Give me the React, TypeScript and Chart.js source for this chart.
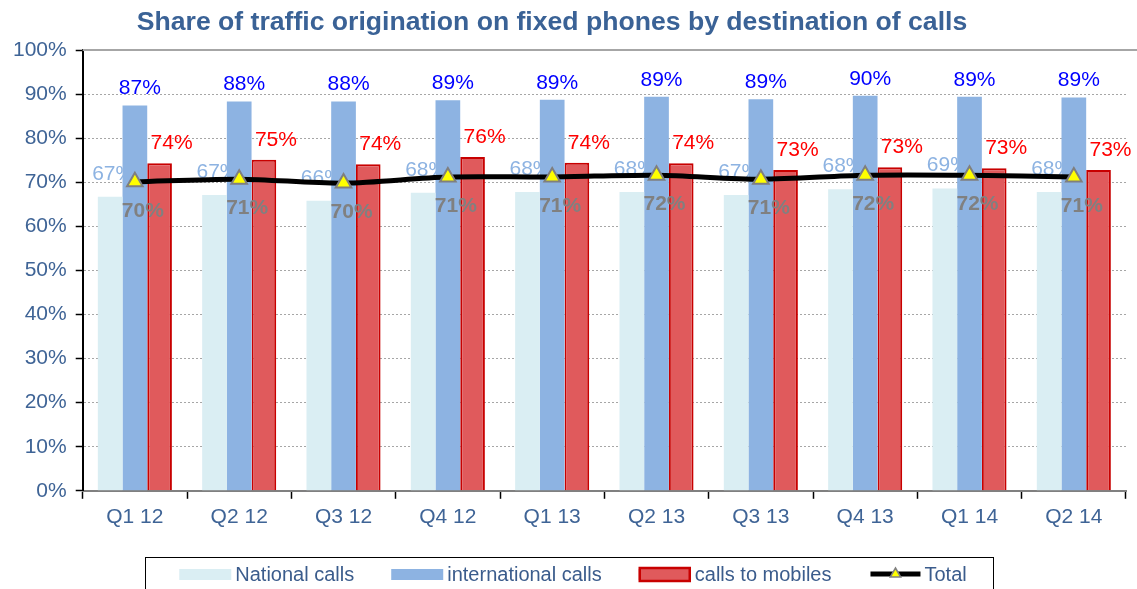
import React, { useEffect, useRef } from 'react';
import { Chart, registerables } from 'chart.js';

Chart.register(...registerables);

const TITLE = 'Share of traffic origination on fixed phones by destination of calls';
const categories = ['Q1 12', 'Q2 12', 'Q3 12', 'Q4 12', 'Q1 13', 'Q2 13', 'Q3 13', 'Q4 13', 'Q1 14', 'Q2 14'];
const nationalCalls = [66.7, 67.1, 65.8, 67.6, 67.8, 67.8, 67.1, 68.4, 68.6, 67.8];
const internationalCalls = [87.4, 88.3, 88.3, 88.6, 88.7, 89.4, 88.8, 89.6, 89.4, 89.2];
const callsToMobiles = [74.3, 75.1, 74.1, 75.7, 74.4, 74.3, 72.8, 73.4, 73.2, 72.8];
const total = [70.1, 70.7, 69.8, 71.2, 71.2, 71.6, 70.7, 71.6, 71.6, 71.2];
const seriesNames = ['National calls', 'international calls', 'calls to mobiles', 'Total'];

const FONT = '"Liberation Sans", Arial, sans-serif';
const AXIS_TEXT = '#3F6496';

const labelStyles = [
  { color: '#8DB3E2', bold: false, dx: 3, dy: -23 },
  { color: '#0000FF', bold: false, dx: 5, dy: -17 },
  { color: '#FF0000', bold: false, dx: 12, dy: -20 },
  { color: '#808080', bold: true, dx: 8, dy: 29 },
];

function drawLabels(chart: any, indices: number[]) {
  const ctx = chart.ctx;
  ctx.save();
  ctx.textAlign = 'center';
  ctx.textBaseline = 'middle';
  indices.forEach((di) => {
    const meta = chart.getDatasetMeta(di);
    const ds = chart.data.datasets[di];
    const st = labelStyles[di];
    ctx.font = `${st.bold ? 'bold ' : ''}21px ${FONT}`;
    ctx.fillStyle = st.color;
    meta.data.forEach((el: any, i: number) => {
      const v = ds.data[i] as number;
      ctx.fillText(`${Math.round(v)}%`, el.x + st.dx, el.y + st.dy);
    });
  });
  ctx.restore();
}

const decorPlugin = {
  id: 'decor',
  beforeDatasetsDraw(chart: any) {
    const { ctx, chartArea } = chart;
    ctx.save();
    ctx.strokeStyle = '#A6A6A6';
    ctx.lineWidth = 2;
    ctx.beginPath();
    ctx.moveTo(chartArea.left, chartArea.top);
    ctx.lineTo(chart.width, chartArea.top);
    ctx.stroke();
    ctx.restore();
    drawLabels(chart, [0]);
  },
  afterDatasetsDraw(chart: any) {
    drawLabels(chart, [1, 2, 3]);
  },
  afterDraw(chart: any) {
    const ctx = chart.ctx;
    ctx.save();
    // title
    ctx.font = `bold 26.6px ${FONT}`;
    ctx.fillStyle = '#3A6296';
    ctx.textAlign = 'center';
    ctx.textBaseline = 'middle';
    ctx.fillText(TITLE, 552, 23);

    // legend
    const boxL = 145, boxR = 993, boxT = 557, cy = 574;
    ctx.strokeStyle = '#000';
    ctx.lineWidth = 1;
    ctx.strokeRect(boxL + 0.5, boxT + 0.5, boxR - boxL, 60);
    ctx.font = `20px ${FONT}`;
    const sw = 52, gapText = 4, gapItem = 37;
    const widths = seriesNames.map((n) => sw + gapText + ctx.measureText(n).width);
    const totalW = widths.reduce((a, b) => a + b, 0) + gapItem * (seriesNames.length - 1);
    let x = (boxL + boxR) / 2 + 4 - totalW / 2;
    const dsets = chart.data.datasets;
    seriesNames.forEach((name, i) => {
      const d = dsets[i];
      if (i < 3) {
        ctx.fillStyle = d.backgroundColor;
        ctx.fillRect(x, cy - 5, sw, 11);
        if (d.borderWidth) {
          ctx.strokeStyle = d.borderColor;
          ctx.lineWidth = 2.5;
          ctx.strokeRect(x + 1, cy - 6, sw - 2, 13);
        }
      } else {
        ctx.strokeStyle = '#000';
        ctx.lineWidth = 5;
        ctx.beginPath();
        ctx.moveTo(x + 2, cy);
        ctx.lineTo(x + sw, cy);
        ctx.stroke();
        const r = 6, tx = x + sw / 2 + 1;
        ctx.beginPath();
        ctx.moveTo(tx, cy - r);
        ctx.lineTo(tx + r * 0.87, cy + r * 0.5);
        ctx.lineTo(tx - r * 0.87, cy + r * 0.5);
        ctx.closePath();
        ctx.fillStyle = '#FFFF00';
        ctx.fill();
        ctx.strokeStyle = '#7F7F7F';
        ctx.lineWidth = 1.5;
        ctx.stroke();
      }
      ctx.fillStyle = '#3B5C8C';
      ctx.textAlign = 'left';
      ctx.fillText(name, x + sw + gapText, cy + 1);
      x += widths[i] + gapItem;
    });
    ctx.restore();
  },
};

export default function App() {
  const ref = useRef<HTMLCanvasElement>(null);
  useEffect(() => {
    if (!ref.current) return;
    const chart = new Chart(ref.current, {
      type: 'bar',
      data: {
        labels: categories,
        datasets: [
          { label: seriesNames[0], data: nationalCalls, backgroundColor: '#DAEEF3', borderWidth: 0, order: 1 },
          { label: seriesNames[1], data: internationalCalls, backgroundColor: '#8DB3E2', borderWidth: 0, order: 1 },
          { label: seriesNames[2], data: callsToMobiles, backgroundColor: '#E05A5C', borderColor: '#C80000', borderWidth: 2, order: 1 },
          {
            type: 'line', label: seriesNames[3], data: total, borderColor: '#000', borderWidth: 5,
            tension: 0.3, pointStyle: 'triangle', pointRadius: 9, pointBackgroundColor: '#FFFF00',
            pointBorderColor: '#7F7F7F', pointBorderWidth: 2, order: 0,
          } as any,
        ],
      },
      options: {
        animation: false,
        responsive: true,
        maintainAspectRatio: false,
        layout: { padding: { top: 50, left: 4, right: 2, bottom: 53 } },
        datasets: { bar: { categoryPercentage: 0.71, barPercentage: 1 } },
        plugins: { legend: { display: false }, title: { display: false }, tooltip: { enabled: false } },
        scales: {
          x: {
            offset: true,
            grid: { display: true, offset: true, drawOnChartArea: false, drawTicks: true, tickLength: 8, tickColor: '#000', tickWidth: 1.5 },
            border: { display: true, color: '#808080', width: 2 },
            ticks: { font: { family: FONT, size: 21 }, color: AXIS_TEXT, padding: 6, maxRotation: 0 },
          },
          y: {
            min: 0, max: 100,
            ticks: { stepSize: 10, font: { family: FONT, size: 21 }, color: AXIS_TEXT, padding: 9, callback: (v: any) => `${v}%` },
            grid: { color: '#A6A6A6', lineWidth: 1, drawTicks: true, tickLength: 7, tickColor: '#000', tickWidth: 1.5 },
            border: { display: true, color: '#000', width: 2, dash: [2, 2] },
          },
        },
      },
      plugins: [decorPlugin],
    });
    return () => chart.destroy();
  }, []);
  return (
    <div style={{ position: 'fixed', left: 0, top: 0, width: 1137, height: 589, background: '#fff' }}>
      <canvas ref={ref} />
    </div>
  );
}
